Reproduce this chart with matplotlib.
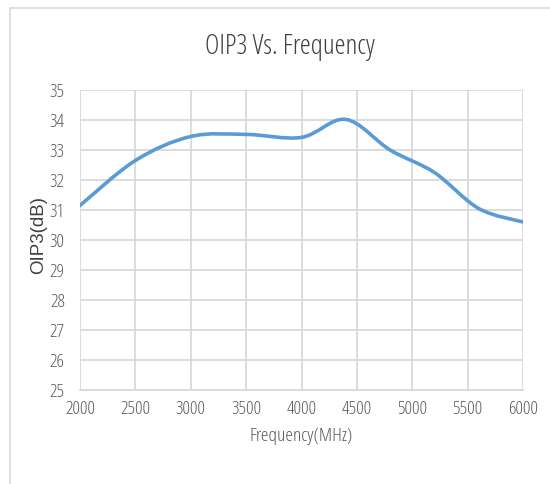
import matplotlib
matplotlib.use("Agg")
import matplotlib.pyplot as plt
from matplotlib.path import Path
from matplotlib.patches import PathPatch
from matplotlib.lines import Line2D

# data
freq_mhz = [2000, 2500, 3000, 3500, 4000, 4400, 4800, 5200, 5600, 6000]
oip3_db = [31.15, 32.65, 33.45, 33.52, 33.42, 34.02, 33.0, 32.25, 31.05, 30.6]
x_ticks = [2000, 2500, 3000, 3500, 4000, 4500, 5000, 5500, 6000]
y_ticks = list(range(25, 36))

font = dict(family=["Open Sans", "DejaVu Sans"], stretch="condensed")
tick_grey = "#595959"
grid_grey = "#d9d9d9"
line_blue = "#5b9bd5"


def smooth_path(xs, ys, tension=1 / 6):
    # Excel-style smoothed line: cubic Bezier segments through each point
    verts = [(xs[0], ys[0])]
    codes = [Path.MOVETO]
    n = len(xs)
    for i in range(n - 1):
        x0, y0 = (xs[i - 1], ys[i - 1]) if i > 0 else (xs[i], ys[i])
        x1, y1 = xs[i], ys[i]
        x2, y2 = xs[i + 1], ys[i + 1]
        x3, y3 = (xs[i + 2], ys[i + 2]) if i + 2 < n else (x2, y2)
        c1 = (x1 + (x2 - x0) * tension, y1 + (y2 - y0) * tension)
        c2 = (x2 - (x3 - x1) * tension, y2 - (y3 - y1) * tension)
        verts += [c1, c2, (x2, y2)]
        codes += [Path.CURVE4] * 3
    return Path(verts, codes)


fig = plt.figure(figsize=(5.5, 4.84), dpi=100)
ax = fig.add_axes([80 / 550, 1 - 390 / 484, 443 / 550, 300 / 484])

ax.add_patch(PathPatch(smooth_path(freq_mhz, oip3_db), facecolor="none",
                       edgecolor=line_blue, lw=2.6, capstyle="round", zorder=3))

ax.set_xlim(2000, 6000)
ax.set_ylim(25, 35)
ax.set_xticks(x_ticks)
ax.set_yticks(y_ticks)
ax.grid(True, color=grid_grey, lw=1.3)
ax.set_axisbelow(True)
for side in ["top", "right", "left"]:
    ax.spines[side].set_visible(False)
ax.spines["bottom"].set_color(grid_grey)
ax.spines["bottom"].set_linewidth(1.3)
ax.tick_params(axis="x", length=0, colors=tick_grey, labelsize=13.5, pad=7)
ax.tick_params(axis="y", length=0, colors=tick_grey, labelsize=13.5, pad=11)
for lab in ax.get_xticklabels() + ax.get_yticklabels():
    lab.set_family(font["family"])
    lab.set_stretch(font["stretch"])
    lab.set_fontweight(300)

ax.set_xlabel("Frequency(MHz)", fontsize=14, color=tick_grey, labelpad=7,
              weight=300, **font)
ax.set_ylabel("OIP3(dB)", family="Liberation Sans", fontsize=13.5,
              color="#404040")
ax.yaxis.set_label_coords(-33 / 443, 155 / 300)
fig.text(0.5 + 15 / 550, 1 - 47 / 484, "OIP3 Vs. Frequency", fontsize=20,
         color="#404040", ha="center", va="center", weight=300, **font)

# outer chart frame (runs off the image at right and bottom)
fig.add_artist(Line2D([10 / 550, 10 / 550], [0, 1 - 8 / 484],
                      color=grid_grey, lw=1.2, transform=fig.transFigure))
fig.add_artist(Line2D([10 / 550, 1], [1 - 8 / 484, 1 - 8 / 484],
                      color=grid_grey, lw=1.2, transform=fig.transFigure))

fig.savefig("out.png", dpi=100, facecolor="white")
